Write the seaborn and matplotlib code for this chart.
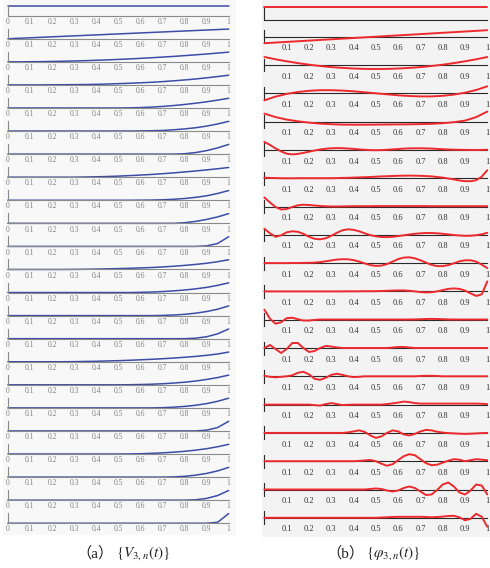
import numpy as np
import matplotlib
matplotlib.use("Agg")
import matplotlib.pyplot as plt
from matplotlib.patches import Rectangle
import seaborn as sns

sns.set_style("white")
plt.rcParams["font.family"] = ["Liberation Serif", "DejaVu Serif"]
plt.rcParams["mathtext.fontset"] = "stix"

# ---------------- data ----------------
tick_values = [0, 0.1, 0.2, 0.3, 0.4, 0.5, 0.6, 0.7, 0.8, 0.9, 1]
left_tick_labels = ["0", "0.1", "0.2", "0.3", "0.4", "0.5", "0.6", "0.7", "0.8", "0.9", "1"]
right_tick_values = [0.1, 0.2, 0.3, 0.4, 0.5, 0.6, 0.7, 0.8, 0.9, 1]
right_tick_labels = ["0.1", "0.2", "0.3", "0.4", "0.5", "0.6", "0.7", "0.8", "0.9", "1"]
caption_a_tag = "（a）"
caption_a_math = "$\\{V_{3,n}(t)\\}$"
caption_b_tag = "（b）"
caption_b_math = "$\\{\\varphi_{3,n}(t)\\}$"

# left panel: V_{3,n}(t), samples evenly spaced on [0, 1]
V01 = [1, 1]
V02 = [0, 1]
V03 = [0, 0, .01, .02, .04, .06, .09, .12, .16, .2, .25, .3, .36, .42, .49, .56, .64, .72, .81, .9, 1]
V04 = [0, 0, 0, 0, .01, .02, .03, .04, .06, .09, .13, .17, .22, .27, .34, .42, .51, .61, .73, .86, 1]
V05 = [0, 0, 0, 0, 0, 0, 0, 0, 0, 0, 0, .01, .04, .09, .16, .25, .36, .49, .64, .81, 1]
V06 = [0, 0, 0, 0, 0, 0, 0, 0, 0, 0, 0, 0, .01, .03, .06, .13, .22, .34, .51, .73, 1]
V07 = [0, 0, 0, 0, 0, 0, 0, 0, 0, 0, 0, 0, 0, 0, 0, 0, .04, .16, .36, .64, 1]
V08 = [0, 0, 0, 0, 0, 0, 0, .02, .04, .07, .11, .16, .22, .28, .36, .44, .54, .64, .75, .87, 1]
V09 = [0, 0, 0, 0, 0, 0, 0, 0, 0, 0, 0, 0, .01, .02, .05, .1, .18, .3, .46, .7, 1]
V10 = [0, 0, 0, 0, 0, 0, 0, 0, 0, 0, 0, 0, 0, 0, 0, 0, .06, .2, .4, .66, 1]
V11 = [0, 0, 0, 0, 0, 0, 0, 0, 0, 0, 0, 0, 0, 0, 0, 0, 0, 0, .05, .3, 1]
V12 = [0, 0, 0, 0, 0, 0, .01, .02, .04, .06, .09, .12, .16, .2, .26, .33, .42, .52, .64, .8, 1]
V13 = [0, 0, 0, 0, 0, 0, 0, 0, 0, 0, 0, 0, .02, .05, .1, .17, .26, .38, .53, .74, 1]
V14 = [0, 0, 0, 0, 0, 0, 0, 0, 0, 0, 0, 0, 0, 0, .02, .06, .13, .25, .42, .66, 1]
V15 = [0, 0, 0, 0, 0, 0, 0, 0, 0, 0, 0, 0, 0, 0, 0, 0, 0, .05, .2, .5, 1]
V16 = [0, 0, 0, 0, 0, 0, .01, .03, .05, .08, .11, .15, .2, .25, .31, .38, .46, .55, .66, .8, 1]
V17 = [0, 0, 0, 0, 0, 0, 0, 0, 0, 0, 0, .01, .03, .06, .11, .18, .27, .39, .55, .75, 1]
V18 = [0, 0, 0, 0, 0, 0, 0, 0, 0, 0, 0, 0, 0, 0, .02, .07, .15, .27, .44, .68, 1]
V19 = [0, 0, 0, 0, 0, 0, 0, 0, 0, 0, 0, 0, 0, 0, 0, 0, 0, 0, .08, .35, 1]
V20 = [0, 0, 0, 0, 0, 0, 0, 0, 0, 0, 0, .01, .03, .07, .12, .19, .28, .4, .55, .75, 1]
V21 = [0, 0, 0, 0, 0, 0, 0, 0, 0, 0, 0, 0, 0, 0, 0, .02, .08, .2, .38, .64, 1]
V22 = [0, 0, 0, 0, 0, 0, 0, 0, 0, 0, 0, 0, 0, 0, 0, 0, 0, .04, .18, .48, 1]
V23 = [0, 0, 0, 0, 0, 0, 0, 0, 0, 0, 0, 0, 0, 0, 0, 0, 0, 0, 0, .1, 1]

# right panel: phi_{3,n}(t), samples evenly spaced on [0, 1]
P01 = [13.3, 13.3]
P02 = [-6.5, 6.5]
P03 = [8, 5.7, 3.7, 1.9, 0.3, -1.0, -2.1, -2.9, -3.5, -3.9, -4, -3.9, -3.5, -2.9, -2.1, -1.0, 0.3, 1.9, 3.7, 5.7, 8]
P04 = [-7, -3.3, -0.6, 1.3, 2.5, 3.1, 3.1, 2.7, 2.0, 1.0, 0, -1.0, -2.0, -2.7, -3.1, -3.1, -2.5, -1.3, 0.6, 3.3, 7]
P05 = [8, 4.5, 2, 0.3, -1, -2, -2.6, -3, -3.1, -3.1, -3, -2.9, -2.8, -2.7, -2.5, -2.2, -1.6, -0.6, 1, 4.5, 10]
P06 = [8, 5, 1.5, -1.5, -3.8, -4.5, -4, -3, -1.8, -0.6, 0.4, 1.2, 1.6, 1.8, 1.7, 1.4, 1, 0.5, 0.1, -0.2,
       -0.3, -0.2, 0.1, 0.5, 0.9, 1.3, 1.5, 1.6, 1.6, 1.5, 1.3, 1.0, 0.7, 0.4, 0.2, 0.1, 0, -0.1, -0.1, 0, 0.2]
P07 = [0.5, 0.3, 0.1, 0, -0.1, -0.1, 0, 0, 0, 0, 0, 0, 0, 0.1, 0.3, 0.4, 0.6, 0.8, 1, 1.2,
       1.5, 1.8, 2, 2.2, 2.4, 2.5, 2.6, 2.5, 2.4, 2.1, 1.8, 1.2, 0.6, -0.3, -1.2, -2.3, -3, -3, -2, 1.5, 8]
P08 = [9, 4, -0.5, -3, -2.5, -0.5, 1.2, 1.8, 1.5, 1, 0.5, 0.2, 0, 0, 0.1, 0.2, 0.3, 0.3, 0.3, 0.3,
       0.4, 0.4, 0.4, 0.4, 0.4, 0.4, 0.4, 0.4, 0.4, 0.4, 0.3, 0.3, 0.3, 0.3, 0.3, 0.3, 0.3, 0.3, 0.3, 0.3, 0.3]
P09 = [6, 1.5, -2, -0.5, 2.5, 3.5, 3, 1, -2, -4, -4.5, -3.5, -1, 2, 4.5, 5.5, 5, 3.5, 1.5, -0.3,
       -1.5, -2.2, -2.3, -2, -1.3, -0.5, 0.3, 1, 1.5, 1.8, 1.8, 1.5, 1, 0.4, -0.2, -0.7, -1, -0.9, -0.4, 0.5, 2]
P10 = [0, 0, 0, 0, 0, 0.1, 0.1, 0.2, 0.3, 0.5, 1, 1.8, 2.7, 3.5, 3.9, 3.8, 3, 1.5, -0.3, -2,
       -2.8, -2.5, -1, 1.5, 4, 5.5, 5.8, 4.8, 2.8, 0.5, -1.8, -3, -3, -2, -0.2, 1.8, 2.8, 2.8, 1.5, -1.5, -5]
P11 = [0, 0, 0, 0, 0, 0, 0, 0, 0, 0, 0, 0, 0, 0, 0, 0.1, 0.1, 0.1, 0.2, 0.2,
       0.2, 0.4, 0.6, 0.8, 1, 1, 0.6, 0, -0.7, -1, -0.8, 0, 1.3, 2.5, 3, 2.5, 0.8, -2, -4.5, -3, 10]
P12 = [10, 1, -4, -2.5, 1.5, 2, 0.5, -0.8, -0.8, -0.2, 0.2, 0.2, 0.2, 0.2, 0.2, 0.2, 0.2, 0.2, 0.2, 0.2,
       0.2, 0.2, 0.2, 0.2, 0.2, 0.2, 0.2, 0.3, 0.5, 0.7, 0.8, 0.7, 0.5, 0.3, 0.2, 0.2, 0.2, 0.2, 0.2, 0.2, 0.2]
P13 = [0, 3, -1, -5, -1, 5, 5, 0, -4, -3, 0, 2, 1.5, 0.5, 0, 0, 0, 0, 0, 0,
       0, 0, 0, 0.5, 1, 1, 0.5, 0, 0, 0, 0, 0, 0, 0, 0, 0, 0, 0, 0, 0, 0]
P14 = [0.5, -0.5, -1, -0.5, 0, 1, 3.5, 4.5, 2, -2.5, -3.5, -1.5, 1.5, 2.5, 1.5, 0, -0.8, -0.5, 0, 0,
       0, 0, 0, 0, 0, 0, 0, 0, 0.3, 0.5, 0.5, 0.3, 0, 0, 0, 0, 0, 0, 0, 0, 0]
P15 = [0, 0, 0, 0, 0, 0, 0, 0, 0, -0.5, -1, 0.5, 1.5, 0.5, -0.5, -0.2, 0, 0, 0, 0,
       0, 0, 0.5, 1.2, 2, 3, 2.5, 1.5, 1, 1, 1, 1, 1, 1, 1, 1, 1, 1, 1, 0.8, 0.5]
P16 = [0, 0, 0, 0, 0, 0, 0, 0, 0, 0, 0, 0, 0, 0, 0, 0.5, 1.5, 2.5, 1, -2.5,
       -5, -3.5, 0, 2.5, 1.5, -1.5, -2.5, -1, 1.5, 3, 2.5, 1.2, 0.3, -0.2, -0.5, -0.8, -1, -0.8, -0.5, -0.2, 0]
P17 = [0, 0, 0, 0, 0, 0, 0, 0, 0, 0, 0, 0, 0, 0, 0, 0, 0, 0.3, 0.8, 1.2,
       0, -2.5, -4.5, -3, 1, 5, 7, 6, 2, -2, -4, -3.5, -1.5, 0.5, 2, 1.5, 0, 1, 2, 1.5, 1]
P18 = [0, 0, 0, 0, 0, 0, 0, 0, 0, 0, 0, 0, 0, 0, 0, 0, 0, 0, 0, 0.5,
       1, 0.5, -1, -2, -1, 1.5, 3, 1.5, -2, -5.5, -5, -0.5, 5, 7, 3, -3, -5, -1, 5, 4, -5]
P19 = [0, 0, 0, 0, 0, 0, 0, 0, 0, 0, 0, 0, 0, 0, 0, 0, 0, 0, 0, 0,
       0, 0.3, 0.5, 0.8, 1, 1, 1, 1, 1, 0.8, 0.5, 0.8, 1.2, 1.8, 2, 0.5, -2.5, -1, 4, 1, -9]

v_rows = [V01, V02, V03, V04, V05, V06, V07, V08, V09, V10, V11, V12,
          V13, V14, V15, V16, V17, V18, V19, V20, V21, V22, V23]
p_rows = [P01, P02, P03, P04, P05, P06, P07, P08, P09, P10,
          P11, P12, P13, P14, P15, P16, P17, P18, P19]

# ---------------- style ----------------
W, H = 490, 568
BLUE = "#3b4da6"
RED = "#ec2a2e"
TICK_FONT = ["Liberation Serif", "DejaVu Serif"]
fig = plt.figure(figsize=(W / 100, H / 100), dpi=100)
fig.patch.set_facecolor("white")
fig.patches.append(Rectangle((3 / W, 1 - 535 / H), 233 / W, 535 / H, transform=fig.transFigure,
                             facecolor="#f8f8f8", edgecolor="none", zorder=-5))
fig.patches.append(Rectangle((262 / W, 1 - 537 / H), 228 / W, 537 / H, transform=fig.transFigure,
                             facecolor="#f3f3f3", edgecolor="none", zorder=-5))


def add_ax(x0, y_top, w, h):
    return fig.add_axes([x0 / W, 1 - (y_top + h) / H, w / W, h / H])


def plot_curve(ax, vals, color, lw):
    t = np.linspace(0, 1, len(vals))
    sns.lineplot(x=t, y=vals, ax=ax, color=color, linewidth=lw)
    for ln in ax.get_lines():
        ln.set_clip_on(False)
    ax.set_xlim(0, 1)
    ax.set_xlabel("")
    ax.set_ylabel("")
    ax.set_facecolor("none")
    ax.set_yticks([])
    for s in ("top", "right"):
        ax.spines[s].set_visible(False)


def serif_ticks(ax):
    for lbl in ax.get_xticklabels():
        lbl.set_fontfamily(TICK_FONT)


# left panel
LX0, LW = 7.9, 220.8
for k, vals in enumerate(v_rows):
    yb = 15.7 + 23.07 * k
    ax = add_ax(LX0, yb - 10, LW, 10)
    plot_curve(ax, vals, BLUE, 1.1)
    ax.set_ylim(0, 1.03)
    for s in ("left", "bottom"):
        ax.spines[s].set_color("#8a8a8a")
        ax.spines[s].set_linewidth(0.8)
    ax.set_xticks(tick_values)
    ax.set_xticklabels(left_tick_labels)
    ax.tick_params(axis="x", direction="in", length=2, width=0.6, color="#8a8a8a",
                   labelcolor="#808080", labelsize=5.5, pad=1.6)
    serif_ticks(ax)

# right panel
RX0, RW = 264.4, 222.9
for k, vals in enumerate(p_rows):
    if k == 0:
        ax = add_ax(RX0, 6.0, RW, 14.0)
        plot_curve(ax, vals, RED, 1.4)
        ax.set_ylim(0, 14)
        ax.spines["left"].set_bounds(0, 13.3)
        ax.set_xticks(right_tick_values)
        ax.set_xticklabels([])
    else:
        yb = 36.7 + 28.3 * (k - 1)
        ax = add_ax(RX0, yb - 9, RW, 18)
        plot_curve(ax, vals, RED, 1.4)
        ax.set_ylim(-9, 9)
        ax.spines["bottom"].set_position(("data", 0))
        ax.spines["left"].set_bounds(-6.5, 6.5)
        ax.set_xticks(right_tick_values)
        ax.set_xticklabels(right_tick_labels)
    for s in ("left", "bottom"):
        ax.spines[s].set_color("#2a2a2a")
        ax.spines[s].set_linewidth(0.8)
        ax.spines[s].set_zorder(1)
    ax.tick_params(axis="x", direction="out", length=2.5, width=0.6, color="#2a2a2a",
                   labelcolor="#333333", labelsize=6, pad=3.0)
    serif_ticks(ax)

# captions: full-width tag (CJK fallback) + math part
TAG_FONT = ["Liberation Serif", "Noto Sans CJK SC"]
CAP_Y = 1 - 553 / H
fig.text(114 / W, CAP_Y, caption_a_tag, ha="right", va="center", fontsize=11,
         family=TAG_FONT, color="#222222")
fig.text(116 / W, CAP_Y, caption_a_math, ha="left", va="center", fontsize=11,
         color="#222222")
fig.text(364 / W, CAP_Y, caption_b_tag, ha="right", va="center", fontsize=11,
         family=TAG_FONT, color="#222222")
fig.text(366 / W, CAP_Y, caption_b_math, ha="left", va="center", fontsize=11,
         color="#222222")

fig.savefig("out.png", dpi=100)
